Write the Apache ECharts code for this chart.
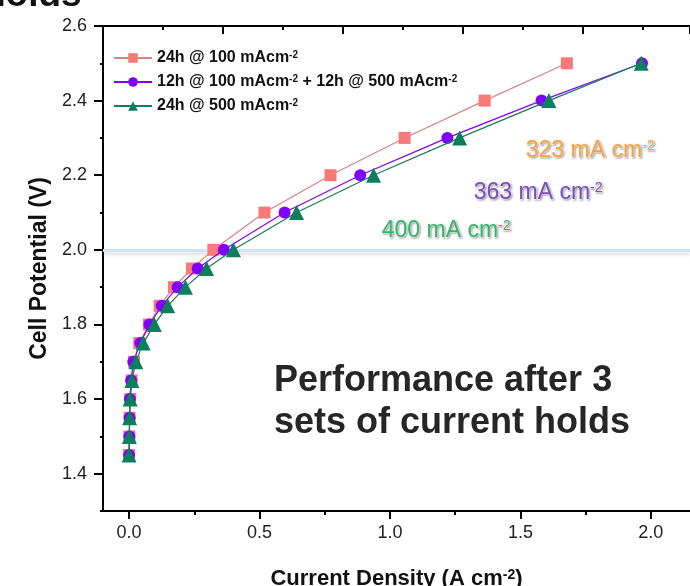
<!DOCTYPE html>
<html>
<head>
<meta charset="utf-8">
<script src="https://cdn.jsdelivr.net/npm/echarts@6/dist/echarts.min.js"></script>
<style>html,body{margin:0;padding:0;background:#fff}#c{width:690px;height:586px}</style>
</head>
<body>
<div id="c"></div>
<script>
// ---- data ----
const voltages = [1.45,1.5,1.55,1.6,1.65,1.7,1.75,1.8,1.85,1.9,1.95,2.0,2.1,2.2,2.3,2.4,2.5];
const current100 = [0.000,0.001,0.002,0.004,0.010,0.019,0.039,0.076,0.117,0.172,0.241,0.323,0.519,0.772,1.056,1.363,1.678];
const current100_500 = [0.000,0.001,0.002,0.003,0.008,0.016,0.043,0.078,0.125,0.186,0.263,0.363,0.596,0.886,1.220,1.581,1.966];
const current500 = [0.000,0.001,0.002,0.004,0.011,0.026,0.054,0.097,0.148,0.216,0.297,0.400,0.642,0.937,1.267,1.609,1.963];
const seriesNames = ['24h @ 100 mAcm-2','12h @ 100 mAcm-2 + 12h @ 500 mAcm-2','24h @ 500 mAcm-2'];
const xMajorTicks = [0,0.5,1.0,1.5,2.0];
const xMinorTicks = [0.25,0.75,1.25,1.75];
const yMajorTicks = [1.4,1.6,1.8,2.0,2.2,2.4,2.6];
const yMinorTicks = [1.3,1.5,1.7,1.9,2.1,2.3,2.5];
const refVoltage = 2.0;
const annotations = ['323','363','400'];

const toPairs = (xs) => xs.map((x,i)=>[x, voltages[i]]);
const chart = echarts.init(document.getElementById('c'), null, {renderer:'canvas'});
const axisCol = '#000';
const lab = {color:'#222', fontSize:18, fontFamily:'Liberation Sans, Arial, sans-serif'};
const supRich = {
  t:{fontSize:16, fontWeight:'bold', color:'#111', fontFamily:'Liberation Sans, Arial'},
  s:{fontSize:10, fontWeight:'bold', color:'#111', fontFamily:'Liberation Sans, Arial', verticalAlign:'top', padding:[0,0,6,0]}
};
const legendFmt = {
  [seriesNames[0]]: '{t|24h @ 100 mAcm}{s|-2}',
  [seriesNames[1]]: '{t|12h @ 100 mAcm}{s|-2}{t| + 12h @ 500 mAcm}{s|-2}',
  [seriesNames[2]]: '{t|24h @ 500 mAcm}{s|-2}'
};
function annText(val, color){
  const eff = {fill:color, stroke:'#ffffff', lineWidth:1.5, textShadowColor:'rgba(0,0,0,0.25)', textShadowBlur:2, textShadowOffsetX:1, textShadowOffsetY:1, fontFamily:'Liberation Sans, Arial'};
  return {
    text: '{a|' + val + ' mA cm}{s|-2}',
    rich: {
      a:Object.assign({fontSize:23}, eff),
      s:Object.assign({fontSize:14, verticalAlign:'top', padding:[0,0,10,0]}, eff)
    }
  };
}
const option = {
  animation:false,
  backgroundColor:'#fff',
  grid:{left:103, right:0, top:26, bottom:75, containLabel:false, outerBoundsMode:'none'},
  legend:{
    left:108, top:45, orient:'vertical', itemWidth:38, itemHeight:12, itemGap:8,
    data: seriesNames,
    formatter: n => legendFmt[n],
    textStyle:{rich:supRich, fontSize:16, fontWeight:'bold'}
  },
  xAxis:[
    {type:'value', position:'bottom', min:-0.1, max:2.15,
     axisLine:{show:true, onZero:false, lineStyle:{color:axisCol, width:2}},
     axisTick:{show:true, inside:false, length:8, customValues:xMajorTicks, lineStyle:{color:axisCol, width:2}},
     axisLabel:{show:true, customValues:xMajorTicks, margin:13, formatter:v=>v.toFixed(1), ...lab},
     splitLine:{show:false},
     name:'Current Density (A cm{s|-2})', nameLocation:'middle', nameGap:57,
     nameTextStyle:{fontSize:22, fontWeight:'bold', color:'#111', fontFamily:'Liberation Sans, Arial',
       rich:{s:{fontSize:14, fontWeight:'bold', color:'#111', verticalAlign:'top', padding:[0,0,8,0]}}}
    },
    {type:'value', position:'bottom', min:-0.1, max:2.15,
     axisLine:{show:false, onZero:false},
     axisTick:{show:true, inside:false, length:4, customValues:xMinorTicks, lineStyle:{color:axisCol, width:2}},
     axisLabel:{show:false}, splitLine:{show:false}},
    {type:'value', position:'top', min:0, max:9.78, interval:2,
     axisLine:{show:true, onZero:false, lineStyle:{color:axisCol, width:2}},
     axisTick:{show:true, inside:true, length:8, lineStyle:{color:axisCol, width:2}},
     axisLabel:{show:false}, splitLine:{show:false}},
    {type:'value', position:'top', min:0, max:9.78, interval:1,
     axisLine:{show:false, onZero:false},
     axisTick:{show:true, inside:true, length:4, lineStyle:{color:axisCol, width:2}},
     axisLabel:{show:false}, splitLine:{show:false}}
  ],
  yAxis:[
    {type:'value', position:'left', min:1.3, max:2.6,
     axisLine:{show:true, onZero:false, lineStyle:{color:axisCol, width:2}},
     axisTick:{show:true, inside:false, length:9, customValues:yMajorTicks, lineStyle:{color:axisCol, width:2}},
     axisLabel:{show:true, customValues:yMajorTicks, margin:16, formatter:v=>v.toFixed(1), ...lab},
     splitLine:{show:false},
     name:'Cell Potential (V)', nameLocation:'middle', nameGap:51,
     nameTextStyle:{fontSize:23, fontWeight:'bold', color:'#111', fontFamily:'Liberation Sans, Arial'}
    },
    {type:'value', position:'left', min:1.3, max:2.6,
     axisLine:{show:false, onZero:false},
     axisTick:{show:true, inside:false, length:3, customValues:yMinorTicks, lineStyle:{color:axisCol, width:2}},
     axisLabel:{show:false}, splitLine:{show:false}}
  ],
  series:[
    {type:'line', name:'ref', data:[], z:1, silent:true, xAxisIndex:0, yAxisIndex:0,
     markLine:{silent:true, symbol:'none', label:{show:false}, z:1,
       lineStyle:{color:'#cbe5ef', width:3, type:'solid', shadowColor:'rgba(0,0,0,0.12)', shadowBlur:3, shadowOffsetY:3},
       data:[{yAxis:refVoltage}]}},
    {type:'line', name:seriesNames[0], data:toPairs(current100), z:3,
     symbol:'rect', symbolSize:12, itemStyle:{color:'#f77a78'},
     lineStyle:{color:'#d68484', width:1.2}},
    {type:'line', name:seriesNames[1], data:toPairs(current100_500), z:4,
     symbol:'circle', symbolSize:12, itemStyle:{color:'#7f00ff'},
     lineStyle:{color:'#7f00ff', width:1.2}},
    {type:'line', name:seriesNames[2], data:toPairs(current500), z:5,
     symbol:'triangle', symbolSize:15, itemStyle:{color:'#0a7f5c'},
     lineStyle:{color:'#1b7a5a', width:1.2}}
  ],
  graphic:[
    {type:'text', left:-17, top:-23, style:{text:'holds', font:'bold 37px Liberation Sans, Arial', fill:'#111'}},
    {type:'text', left:274, top:360, style:{text:'Performance after 3\nsets of current holds', font:'bold 36px Liberation Sans, Arial', fill:'#262626', lineHeight:42}},
    {type:'text', left:525, top:138, style:annText(annotations[0], '#f9a23c')},
    {type:'text', left:473, top:180, style:annText(annotations[1], '#7c4dbd')},
    {type:'text', left:381, top:218, style:annText(annotations[2], '#33b56a')}
  ]
};
chart.setOption(option);
</script>
</body>
</html>
